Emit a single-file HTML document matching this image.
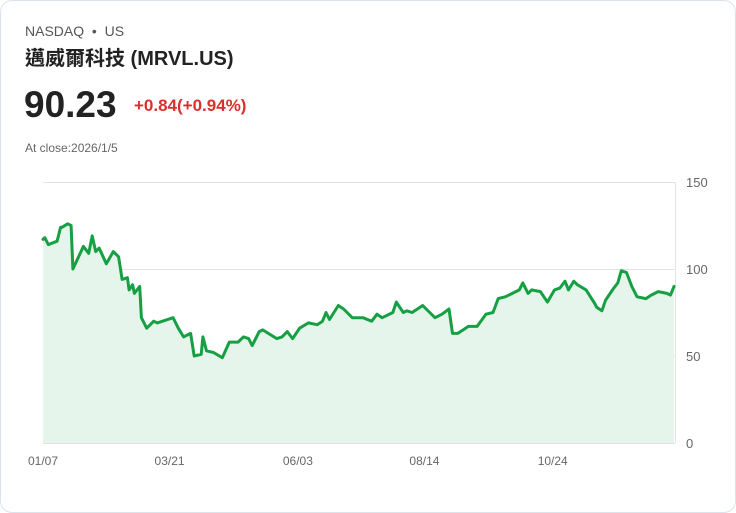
<!DOCTYPE html>
<html><head><meta charset="utf-8"><style>
body{margin:0;background:#fff;font-family:"Liberation Sans","Noto Sans CJK TC",sans-serif;}
.card{position:absolute;left:0;top:0;width:734px;height:511px;border:1px solid #dde3ea;border-radius:12px;background:#fff;}
.t{position:absolute;white-space:nowrap;}
</style></head><body>
<div class="card">
<div class="t" style="left:24px;top:22px;font-size:14px;color:#555;">NASDAQ &nbsp;•&nbsp; US</div>
<div class="t" style="left:24px;top:41px;font-size:20px;font-weight:bold;color:#222;">邁威爾科技 (MRVL.US)</div>
<div class="t" style="left:23px;top:83px;font-size:37px;font-weight:bold;color:#222;">90.23</div>
<div class="t" style="left:133px;top:95px;font-size:17px;font-weight:bold;color:#d9302c;">+0.84(+0.94%)</div>
<div class="t" style="left:24px;top:140px;font-size:12px;color:#666;">At close:2026/1/5</div>
<svg id="chart" width="736" height="513" style="position:absolute;left:-1px;top:-1px;"></svg>
</div>
<script>
const days=[0,1,3,8,10,11,14,16,17,23,26,28,30,32,36,40,43,45,48,49,51,52,55,56,59,63,65,68,74,77,80,84,86,90,91,93,97,102,106,111,114,117,119,123,125,133,136,139,142,146,151,156,159,161,163,168,171,176,182,187,190,193,199,201,205,207,210,216,220,223,227,231,233,236,239,242,247,252,256,259,263,267,271,273,276,278,283,287,291,294,297,299,302,304,309,314,315,318,320,324,327,329,332,335,338,343,346,350,355,357,359];
const prices=[117,118,114,116,124,124,126,125,100,113,109,119,110,112,103,110,107,94,95,88,91,86,90,72,66,70,69,70,72,66,61,63,50,51,61,53,52,49,58,58,61,60,56,64,65,60,61,64,60,66,69,68,70,75,71,79,77,72,72,70,74,72,75,81,75,76,75,79,75,72,74,77,63,63,65,67,67,74,75,83,84,86,88,92,86,88,87,81,88,89,93,88,93,91,88,80,78,76,82,88,92,99,98,90,84,83,85,87,86,85,90];
const yTicks=[0,50,100,150];
const xTickDays=[0,72,145,217,290];
const xTickLabels=['01/07','03/21','06/03','08/14','10/24'];
const NS='http://www.w3.org/2000/svg';
const svg=document.getElementById('chart');
const X0=43,X1=675,Y0=443,Y1=182;
const xs=d=>X0+d/359*(674-X0);
const ys=v=>Y0-(v/150)*(Y0-Y1);
function mk(tag,attrs){const e=document.createElementNS(NS,tag);for(const k in attrs)e.setAttribute(k,attrs[k]);svg.appendChild(e);return e;}
yTicks.forEach(v=>{
  const l=mk('line',{x1:X0,x2:X1,y1:ys(v)+0.5,y2:ys(v)+0.5,stroke:'#e3e3e3','stroke-width':1});
  
  
  const t=mk('text',{x:686,y:ys(v)+5,'font-size':13,fill:'#666','font-family':'Liberation Sans, sans-serif'});
  t.textContent=v;
  
  
});
const ax=mk('line',{x1:X1+0.5,x2:X1+0.5,y1:Y1,y2:Y0,stroke:'#e3e3e3','stroke-width':1});


xTickDays.forEach((d,i)=>{
  const t=mk('text',{x:xs(d),y:465,'font-size':12,fill:'#666','text-anchor':'middle','font-family':'Liberation Sans, sans-serif'});
  t.textContent=xTickLabels[i];
  
  
});
let p='';
days.forEach((d,i)=>{p+=(i?'L':'M')+xs(d).toFixed(1)+','+ys(prices[i]).toFixed(1);});
const area=mk('path',{d:p+'L'+xs(days[days.length-1])+','+Y0+'L'+xs(days[0])+','+Y0+'Z',fill:'#e6f5eb'});


const line=mk('path',{d:p,fill:'none',stroke:'#16a043','stroke-width':3,'stroke-linejoin':'round','stroke-linecap':'round'});


</script>
</body></html>
